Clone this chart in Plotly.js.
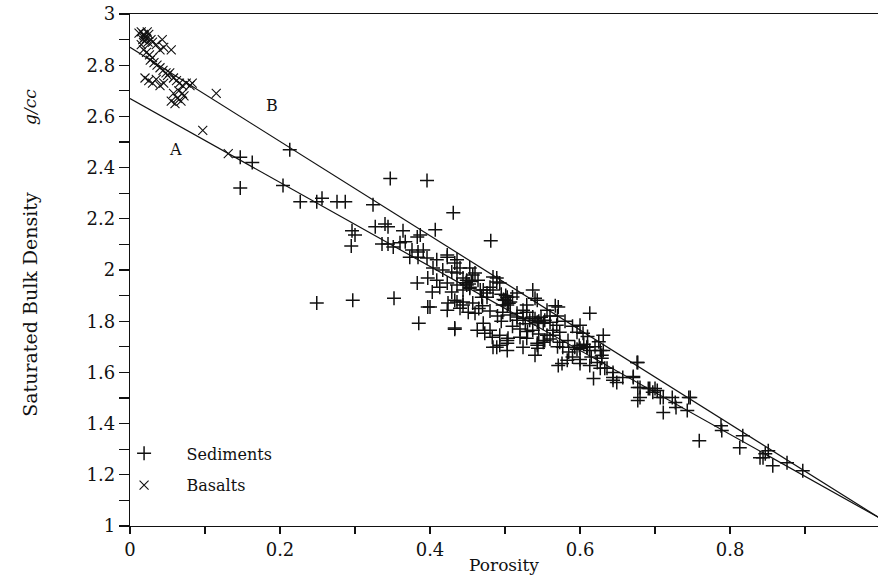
<!DOCTYPE html>
<html>
<head>
<meta charset="utf-8">
<script src="https://cdn.plot.ly/plotly-3.0.1.min.js"></script>
<style>html,body{margin:0;padding:0;background:#fff;}#chart{width:878px;height:575px;}</style>
</head>
<body>
<div id="chart"></div>
<script>
// Basalts (porosity, density)
const basaltsCluster = [
  [0.015,2.93],[0.018,2.92],[0.02,2.91],[0.017,2.90],[0.022,2.905],[0.025,2.92],[0.02,2.895],
  [0.015,2.88],[0.024,2.89],[0.028,2.90],[0.019,2.915],[0.023,2.93],[0.012,2.925],
  [0.035,2.88],[0.045,2.87],[0.055,2.86],[0.03,2.89],[0.04,2.86],[0.043,2.90]
];
const basaltsBand = [
  [0.018,2.86],[0.022,2.85],[0.026,2.84],[0.03,2.83],[0.027,2.82],[0.032,2.81],[0.036,2.80],
  [0.04,2.79],[0.044,2.78],[0.048,2.77],[0.05,2.76],[0.053,2.77],[0.058,2.75],[0.062,2.74],
  [0.066,2.73],[0.07,2.72],[0.075,2.73],[0.08,2.72],[0.083,2.73],
  [0.02,2.75],[0.025,2.74],[0.03,2.73],[0.035,2.745],[0.04,2.72],[0.045,2.73],
  [0.055,2.66],[0.06,2.65],[0.063,2.67],[0.068,2.66],[0.072,2.68],[0.07,2.69],[0.065,2.70],[0.058,2.69],
  [0.097,2.545],[0.115,2.69],[0.131,2.455]
];
// Sediments (porosity, density)
const sedimentsLeft = [
  [0.147,2.44],[0.163,2.42],[0.147,2.32],[0.213,2.47],[0.204,2.33],
  [0.227,2.267],[0.249,2.267],[0.256,2.28],[0.276,2.267],[0.287,2.267],[0.324,2.255],
  [0.347,2.357],[0.396,2.35],[0.431,2.224],[0.481,2.114],
  [0.296,2.153],[0.30,2.137],[0.295,2.094],
  [0.327,2.169],[0.34,2.18],[0.344,2.169],
  [0.364,2.153],[0.383,2.129],[0.387,2.137],[0.407,2.157],
  [0.336,2.102],[0.344,2.102],[0.351,2.09],[0.36,2.106],[0.367,2.11],
  [0.249,1.871],[0.297,1.882],[0.352,1.89],[0.385,1.792],[0.433,1.769]
];
const sedimentsMid = [
  [0.376,2.078],[0.384,2.07],[0.391,2.078],[0.373,2.05],[0.384,2.05],[0.396,2.047],
  [0.409,2.04],[0.423,2.05],[0.436,2.04],[0.404,2.008],[0.417,2.0],
  [0.383,1.949],[0.397,1.969],[0.409,1.96],[0.403,1.914],[0.413,1.933],[0.423,1.949],
  [0.4,1.855],[0.423,2.059],[0.397,1.855],
  [0.436,1.988],[0.444,1.969],[0.449,1.941],[0.457,1.98],[0.464,1.96],[0.444,1.922],[0.453,1.929],[0.467,1.922],[0.429,1.914],
  [0.424,1.871],[0.436,1.875],[0.444,1.863],[0.457,1.871],[0.423,1.843],
  [0.46,1.831],[0.469,1.894],[0.476,1.91],[0.484,1.922],[0.493,1.949],[0.489,1.969],
  [0.503,1.894],[0.507,1.875],[0.497,1.863],
  [0.433,2.027],[0.429,1.992],[0.44,2.008],[0.453,2.008],[0.46,1.988],[0.449,1.96],[0.453,1.933],[0.436,1.941],
  [0.484,1.973],[0.489,1.953],[0.48,1.933],[0.471,1.922],[0.476,1.894],
  [0.433,1.882],[0.444,1.875],[0.44,1.851],[0.451,1.835],[0.433,1.773],
  [0.448,1.95],[0.452,1.945],[0.455,1.955],[0.47,1.86],[0.465,1.85],[0.48,1.84]
];
const sedimentsCore = [
  [0.516,1.91],[0.537,1.922],[0.543,1.882],[0.529,1.863],[0.5,1.882],[0.503,1.863],[0.497,1.835],[0.507,1.824],[0.516,1.831],[0.529,1.835],
  [0.471,1.792],[0.463,1.765],[0.473,1.753],[0.483,1.737],[0.489,1.698],[0.493,1.706],[0.503,1.686],[0.504,1.733],
  [0.48,1.765],[0.493,1.745],[0.503,1.725],[0.52,1.737],[0.537,1.765],[0.551,1.792],[0.537,1.816],[0.524,1.843],[0.516,1.816],
  [0.54,1.89],[0.556,1.843],[0.553,1.804],
  [0.484,1.698],[0.503,1.714],[0.529,1.733],[0.543,1.714],[0.553,1.725],
  [0.516,1.804],[0.524,1.812],[0.533,1.804],[0.543,1.796],[0.56,1.796],[0.569,1.784],[0.564,1.765],
  [0.524,1.698],[0.543,1.706],[0.556,1.745],[0.564,1.745],
  [0.54,1.667],[0.544,1.694],[0.551,1.718],[0.573,1.757],
  [0.501,1.90],[0.498,1.885],[0.505,1.87],[0.51,1.895],[0.495,1.905],
  [0.54,1.81],[0.545,1.80],[0.548,1.815],[0.527,1.79],[0.49,1.82],[0.495,1.80],[0.51,1.78],
  [0.52,1.77],[0.53,1.76],[0.545,1.75],[0.56,1.73],[0.57,1.82],[0.56,1.82],[0.567,1.86]
];
const sedimentsRight = [
  [0.573,1.718],[0.577,1.698],[0.584,1.725],[0.593,1.698],[0.6,1.694],[0.609,1.698],[0.613,1.686],
  [0.571,1.627],[0.576,1.635],[0.583,1.647],[0.6,1.635],[0.613,1.627],[0.623,1.639],[0.629,1.667],[0.627,1.686],[0.631,1.745],
  [0.613,1.831],[0.6,1.784],[0.596,1.757],[0.604,1.753],[0.571,1.855],
  [0.599,1.705],[0.605,1.71],[0.61,1.70],[0.596,1.69],[0.57,1.70],[0.585,1.68],[0.59,1.66],
  [0.60,1.65],[0.615,1.66],[0.62,1.70],[0.625,1.72],[0.61,1.74],[0.59,1.78],[0.58,1.80],
  [0.618,1.576],[0.636,1.616],[0.644,1.58],[0.649,1.561],[0.657,1.58],[0.671,1.58],[0.677,1.639],
  [0.68,1.541],[0.693,1.537],[0.703,1.529],[0.711,1.502],[0.723,1.502],[0.747,1.502],
  [0.631,1.686],[0.629,1.655],[0.627,1.616],[0.633,1.616],[0.644,1.60],[0.644,1.569],
  [0.671,1.584],[0.676,1.639],[0.677,1.541],[0.68,1.502],[0.677,1.49],[0.691,1.537],[0.697,1.522],[0.70,1.537],
  [0.707,1.502],[0.711,1.443],[0.727,1.482],[0.728,1.463],[0.743,1.451],[0.745,1.502],
  [0.759,1.333],[0.788,1.392],[0.789,1.373],[0.813,1.306],[0.817,1.353],
  [0.84,1.267],[0.844,1.267],[0.847,1.282],[0.851,1.294],[0.857,1.235],[0.876,1.247],[0.897,1.216]
];
// Reference lines: grain density at porosity 0, fluid density at porosity 1
const lineA = {x:[0, 1], y:[2.67, 1.03]};
const lineB = {x:[0, 1], y:[2.87, 1.03]};
const xTickVals = [0,0.1,0.2,0.3,0.4,0.5,0.6,0.7,0.8,0.9];
const xTickText = ['0','','0.2','','0.4','','0.6','','0.8',''];
const yTickVals = [1,1.1,1.2,1.3,1.4,1.5,1.6,1.7,1.8,1.9,2,2.1,2.2,2.3,2.4,2.5,2.6,2.7,2.8,2.9,3];
const yTickText = ['1','','1.2','','1.4','','1.6','','1.8','','2','','2.2','','2.4','','2.6','','2.8','','3'];

const sediments = sedimentsLeft.concat(sedimentsMid, sedimentsCore, sedimentsRight);
const basalts = basaltsCluster.concat(basaltsBand);
const FONT = '"DejaVu Serif", serif';
const INK = '#111';

const traces = [
  {x: lineA.x, y: lineA.y, mode:'lines', line:{color:INK, width:1.2}, showlegend:false, hoverinfo:'skip'},
  {x: lineB.x, y: lineB.y, mode:'lines', line:{color:INK, width:1.2}, showlegend:false, hoverinfo:'skip'},
  {x: sediments.map(p=>p[0]), y: sediments.map(p=>p[1]), mode:'markers', name:'Sediments', legendgroup:'s',
   marker:{symbol:'cross-thin', size:10, line:{color:INK, width:1.5}}},
  {x: basalts.map(p=>p[0]), y: basalts.map(p=>p[1]), mode:'markers', name:'Basalts', legendgroup:'b',
   marker:{symbol:'x-thin', size:9, line:{color:INK, width:1.1}}}
];

const layout = {
  width:878, height:575,
  margin:{l:130, r:0, t:14, b:49},
  paper_bgcolor:'#fff', plot_bgcolor:'#fff',
  font:{family:FONT, size:16, color:INK},
  showlegend:true,
  legend:{x:-0.038, y:0.175, xanchor:'left', yanchor:'top', bgcolor:'rgba(0,0,0,0)',
          font:{family:FONT, size:16, color:INK}, tracegroupgap:8, itemwidth:75, traceorder:'grouped'},
  xaxis:{range:[0, 0.9973], showgrid:false, zeroline:false, showline:true, linecolor:INK, linewidth:1.2,
         mirror:true, ticks:'outside', ticklen:7, tickwidth:1.2, tickcolor:INK,
         tickmode:'array', tickvals:xTickVals, ticktext:xTickText,
         tickfont:{family:FONT, size:18, color:INK},
         title:{text:'Porosity', font:{family:FONT, size:17, color:INK}, standoff:2}},
  yaxis:{range:[1, 3], showgrid:false, zeroline:false, showline:true, linecolor:INK, linewidth:1.2,
         ticks:'outside', ticklen:10, tickwidth:1.2, tickcolor:INK,
         tickmode:'array', tickvals:yTickVals, ticktext:yTickText,
         tickfont:{family:FONT, size:18, color:INK}},
  annotations:[
    {xref:'paper', yref:'paper', x:-0.134, y:0.4336, xanchor:'center', yanchor:'middle',
     text:'Saturated Bulk Density', textangle:-90, showarrow:false, font:{family:FONT, size:19, color:INK}},
    {xref:'paper', yref:'paper', x:-0.134, y:0.818, xanchor:'center', yanchor:'middle',
     text:'<i>g/cc</i>', textangle:-90, showarrow:false, font:{family:FONT, size:17, color:INK}},
    {x:0.061, y:2.47, text:'A', showarrow:false, font:{family:FONT, size:16, color:INK}},
    {x:0.189, y:2.643, text:'B', showarrow:false, font:{family:FONT, size:16, color:INK}}
  ]
};

Plotly.newPlot('chart', traces, layout, {displayModeBar:false, staticPlot:true});
</script>
</body>
</html>
